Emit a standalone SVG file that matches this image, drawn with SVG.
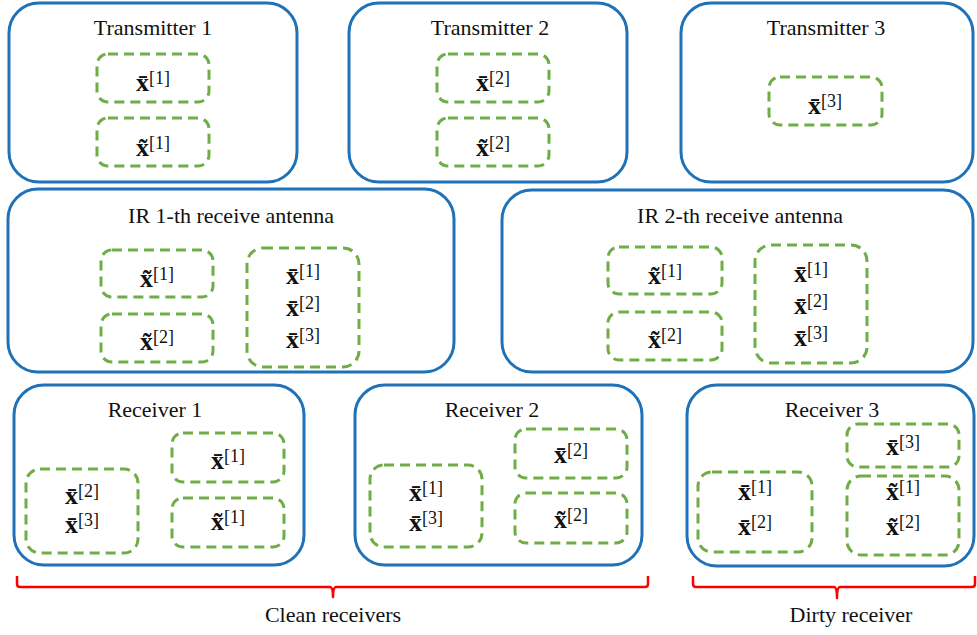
<svg xmlns="http://www.w3.org/2000/svg" width="977" height="635" viewBox="0 0 977 635">
<style>
.outer{fill:#fff;stroke:#1F72B8;stroke-width:3}
.inner{fill:none;stroke:#70AD47;stroke-width:3;stroke-dasharray:10 6}
.title{font-family:"Liberation Serif","Times New Roman","DejaVu Serif",serif;font-size:22px;fill:#111;text-anchor:middle}
.m{font-family:"Liberation Serif","Times New Roman","DejaVu Serif",serif;fill:#111;text-anchor:middle}
.b{font-weight:bold;font-size:26px}
.s{font-size:18px}
.br{fill:none;stroke:#FF0000;stroke-width:2.5;stroke-linejoin:round}
.lbl{font-family:"Liberation Serif","Times New Roman","DejaVu Serif",serif;font-size:22px;fill:#111;text-anchor:middle}
</style>
<rect width="977" height="635" fill="#fff"/>

<g id="tx1">
<rect class="outer" x="9" y="3" width="288" height="179" rx="30"/>
<text class="title" x="153" y="35">Transmitter 1</text>
<rect class="inner" x="97" y="54" width="112" height="48" rx="11"/>
<text class="m" x="153" y="91"><tspan class="b">x̄</tspan><tspan class="s" dy="-7">[1]</tspan></text>
<rect class="inner" x="97" y="118" width="112" height="48" rx="11"/>
<text class="m" x="153" y="156"><tspan class="b">x̃</tspan><tspan class="s" dy="-7">[1]</tspan></text>
</g>

<g id="tx2">
<rect class="outer" x="349" y="3" width="278" height="179" rx="30"/>
<text class="title" x="490" y="35">Transmitter 2</text>
<rect class="inner" x="437" y="54" width="112" height="48" rx="11"/>
<text class="m" x="493" y="91"><tspan class="b">x̄</tspan><tspan class="s" dy="-7">[2]</tspan></text>
<rect class="inner" x="437" y="118" width="112" height="48" rx="11"/>
<text class="m" x="493" y="156"><tspan class="b">x̃</tspan><tspan class="s" dy="-7">[2]</tspan></text>
</g>

<g id="tx3">
<rect class="outer" x="681" y="3" width="292" height="179" rx="30"/>
<text class="title" x="826" y="35">Transmitter 3</text>
<rect class="inner" x="769" y="77" width="113" height="48" rx="11"/>
<text class="m" x="825" y="114"><tspan class="b">x̄</tspan><tspan class="s" dy="-7">[3]</tspan></text>
</g>

<g id="ir1">
<rect class="outer" x="8" y="189" width="446" height="183" rx="30"/>
<text class="title" x="231" y="223">IR 1-th receive antenna</text>
<rect class="inner" x="101" y="250" width="112" height="47" rx="11"/>
<text class="m" x="157" y="287"><tspan class="b">x̃</tspan><tspan class="s" dy="-7">[1]</tspan></text>
<rect class="inner" x="101" y="314" width="112" height="48" rx="11"/>
<text class="m" x="157" y="350"><tspan class="b">x̃</tspan><tspan class="s" dy="-7">[2]</tspan></text>
<rect class="inner" x="247" y="248" width="112" height="119" rx="16"/>
<text class="m" x="303" y="284"><tspan class="b">x̄</tspan><tspan class="s" dy="-7">[1]</tspan></text>
<text class="m" x="303" y="316"><tspan class="b">x̄</tspan><tspan class="s" dy="-7">[2]</tspan></text>
<text class="m" x="303" y="348"><tspan class="b">x̄</tspan><tspan class="s" dy="-7">[3]</tspan></text>
</g>

<g id="ir2">
<rect class="outer" x="502" y="190" width="471" height="182" rx="30"/>
<text class="title" x="740" y="223">IR 2-th receive antenna</text>
<rect class="inner" x="608" y="247" width="114" height="47" rx="11"/>
<text class="m" x="665" y="284"><tspan class="b">x̃</tspan><tspan class="s" dy="-7">[1]</tspan></text>
<rect class="inner" x="608" y="312" width="114" height="48" rx="11"/>
<text class="m" x="665" y="348"><tspan class="b">x̃</tspan><tspan class="s" dy="-7">[2]</tspan></text>
<rect class="inner" x="755" y="245" width="112" height="118" rx="16"/>
<text class="m" x="811" y="282"><tspan class="b">x̄</tspan><tspan class="s" dy="-7">[1]</tspan></text>
<text class="m" x="811" y="314"><tspan class="b">x̄</tspan><tspan class="s" dy="-7">[2]</tspan></text>
<text class="m" x="811" y="346"><tspan class="b">x̄</tspan><tspan class="s" dy="-7">[3]</tspan></text>
</g>

<g id="rx1">
<rect class="outer" x="14" y="385" width="290" height="180" rx="30"/>
<text class="title" x="155" y="417">Receiver 1</text>
<rect class="inner" x="172" y="433" width="112" height="49" rx="11"/>
<text class="m" x="228" y="469"><tspan class="b">x̄</tspan><tspan class="s" dy="-7">[1]</tspan></text>
<rect class="inner" x="172" y="498" width="112" height="49" rx="11"/>
<text class="m" x="228" y="530"><tspan class="b">x̃</tspan><tspan class="s" dy="-7">[1]</tspan></text>
<rect class="inner" x="26" y="469" width="112" height="84" rx="14"/>
<text class="m" x="82" y="504"><tspan class="b">x̄</tspan><tspan class="s" dy="-7">[2]</tspan></text>
<text class="m" x="82" y="533"><tspan class="b">x̄</tspan><tspan class="s" dy="-7">[3]</tspan></text>
</g>

<g id="rx2">
<rect class="outer" x="355" y="385" width="287" height="180" rx="30"/>
<text class="title" x="492" y="417">Receiver 2</text>
<rect class="inner" x="515" y="429" width="112" height="49" rx="11"/>
<text class="m" x="571" y="463"><tspan class="b">x̄</tspan><tspan class="s" dy="-7">[2]</tspan></text>
<rect class="inner" x="515" y="493" width="112" height="50" rx="11"/>
<text class="m" x="571" y="528"><tspan class="b">x̃</tspan><tspan class="s" dy="-7">[2]</tspan></text>
<rect class="inner" x="370" y="465" width="112" height="82" rx="14"/>
<text class="m" x="426" y="501"><tspan class="b">x̄</tspan><tspan class="s" dy="-7">[1]</tspan></text>
<text class="m" x="426" y="531"><tspan class="b">x̄</tspan><tspan class="s" dy="-7">[3]</tspan></text>
</g>

<g id="rx3">
<rect class="outer" x="687" y="385" width="287" height="181" rx="30"/>
<text class="title" x="832" y="417">Receiver 3</text>
<rect class="inner" x="847" y="424" width="112" height="43" rx="11"/>
<text class="m" x="903" y="455"><tspan class="b">x̄</tspan><tspan class="s" dy="-7">[3]</tspan></text>
<rect class="inner" x="847" y="476" width="112" height="79" rx="14"/>
<text class="m" x="903" y="500"><tspan class="b">x̃</tspan><tspan class="s" dy="-7">[1]</tspan></text>
<text class="m" x="903" y="535"><tspan class="b">x̃</tspan><tspan class="s" dy="-7">[2]</tspan></text>
<rect class="inner" x="698" y="472" width="114" height="80" rx="14"/>
<text class="m" x="755" y="500"><tspan class="b">x̄</tspan><tspan class="s" dy="-7">[1]</tspan></text>
<text class="m" x="755" y="535"><tspan class="b">x̄</tspan><tspan class="s" dy="-7">[2]</tspan></text>
</g>

<g id="brackets">
<path class="br" d="M17,576 V584 Q17,587 20,587 H330 Q333,587 333,597 Q333,587 336,587 H645 Q648,587 648,584 V576"/>
<path class="br" d="M693,576 V584 Q693,587 696,587 H834 Q837,587 837,598 Q837,587 840,587 H972 Q975,587 975,584 V576"/>
</g>
<g id="labels">
<text class="lbl" x="333" y="622">Clean receivers</text>
<text class="lbl" x="851" y="622">Dirty receiver</text>
</g>
</svg>
